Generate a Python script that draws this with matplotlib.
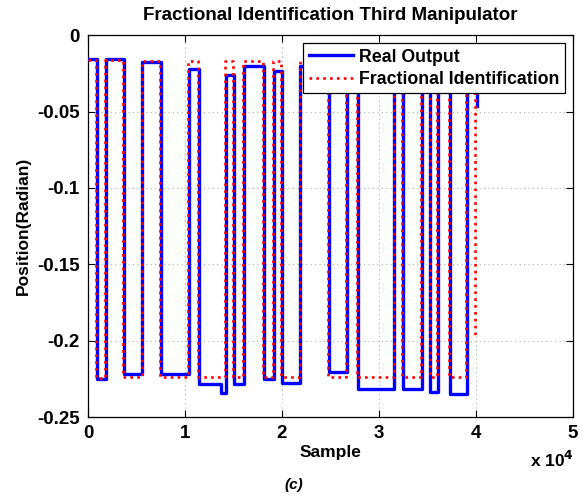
import matplotlib
matplotlib.use("Agg")
import matplotlib.pyplot as plt
from matplotlib.ticker import FixedLocator, FixedFormatter

# ---- data (samples / radians) ----
real_t = [0, 900, 1800, 3700, 5600, 7500, 10400, 11400, 13700, 14200, 15000,
          16100, 18100, 19200, 20000, 21900, 24800, 26700, 27800, 31600, 32500,
          34400, 35300, 36100, 37300, 39100, 40100]
real_y = [-0.0157, -0.2250, -0.0157, -0.2216, -0.0175, -0.2216, -0.0218, -0.2285,
          -0.2340, -0.0258, -0.2281, -0.0203, -0.2250, -0.0234, -0.2277, -0.0200,
          -0.2207, -0.0200, -0.2313, -0.0200, -0.2313, -0.0200, -0.2336, -0.0200,
          -0.2347, -0.0200, -0.0465]

ident_t = [0, 820, 1720, 3620, 5520, 7420, 10320, 11320, 14120, 14920,
           16020, 18020, 19120, 19920, 21820, 24720, 26620, 27720, 31520, 32420,
           34320, 35220, 36020, 37220, 39020, 39900]
ident_y = [-0.0165, -0.2245, -0.0165, -0.2235, -0.0168, -0.2235, -0.0170, -0.2235,
           -0.0170, -0.2235, -0.0170, -0.2235, -0.0170, -0.2235, -0.0170, -0.2235,
           -0.0170, -0.2235, -0.0170, -0.2235, -0.0170, -0.2235, -0.0170, -0.2235,
           -0.0170, -0.1980]

xticks = [0, 10000, 20000, 30000, 40000, 50000]
xticklabels = ["0", "1", "2", "3", "4", "5"]
yticks = [0, -0.05, -0.1, -0.15, -0.2, -0.25]
yticklabels = ["0", "-0.05", "-0.1", "-0.15", "-0.2", "-0.25"]

plt.rcParams['font.family'] = ['Liberation Sans', 'DejaVu Sans']
plt.rcParams['font.weight'] = 'bold'

fig = plt.figure(figsize=(5.87, 4.96), dpi=100)
ax = fig.add_axes([0.150, 0.159, 0.826, 0.770])

ax.step(real_t, real_y, where='post', color=(0, 0, 1), lw=2.4, label='Real Output', zorder=3)
ax.step(ident_t, ident_y, where='post', color=(1, 0, 0), lw=1.9,
        linestyle=(0, (1, 1.6)), label='Fractional Identification', zorder=4)

ax.set_xlim(0, 50000)
ax.set_ylim(-0.25, 0)
ax.xaxis.set_major_locator(FixedLocator(xticks))
ax.xaxis.set_major_formatter(FixedFormatter(xticklabels))
ax.yaxis.set_major_locator(FixedLocator(yticks))
ax.yaxis.set_major_formatter(FixedFormatter(yticklabels))

ax.tick_params(direction='in', top=True, right=True, length=5, width=0.8,
               labelsize=13.5, pad=6)
for lab in ax.get_xticklabels() + ax.get_yticklabels():
    lab.set_fontweight('bold')
ax.grid(True, linestyle=(0, (1, 3)), color='#b0b0b0', lw=0.8)
for s in ax.spines.values():
    s.set_linewidth(0.9)

ax.set_title('Fractional Identification Third Manipulator', fontsize=13.5,
             fontweight='bold', pad=11)
ax.set_xlabel('Sample', fontsize=12.5, fontweight='bold', labelpad=2)
ax.set_ylabel('Position(Radian)', fontsize=12.5, fontweight='bold')
ax.yaxis.set_label_coords(-0.118, 0.5)

fig.text(0.978, 0.052, r'x 10$^{\mathbf{4}}$', ha='right', va='bottom', fontsize=12.5,
         fontweight='bold')
fig.text(0.50, 0.022, '(c)', ha='center', va='center', fontsize=11,
         fontweight='bold', fontstyle='italic')

leg = ax.legend(loc='upper right', fontsize=12.8, frameon=True, fancybox=False,
                edgecolor='black', framealpha=1, borderaxespad=0.45,
                handlelength=2.5, borderpad=0.3, labelspacing=0.3,
                handletextpad=0.35)
leg.get_frame().set_linewidth(0.9)
for t in leg.get_texts():
    t.set_fontweight('bold')

fig.savefig('out.png', dpi=100)
